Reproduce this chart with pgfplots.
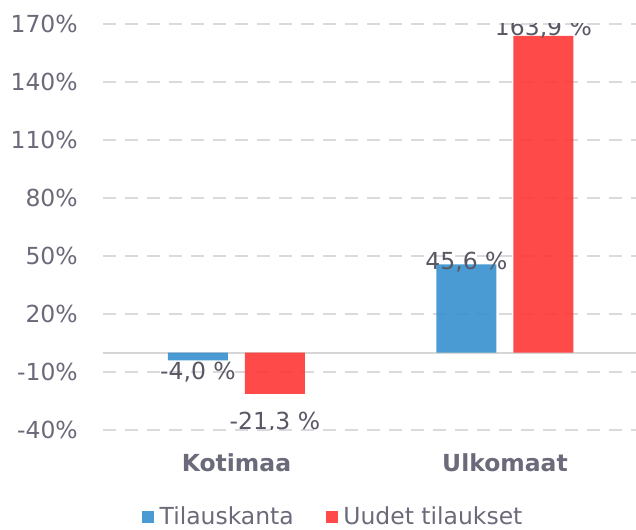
\documentclass[border=0pt]{standalone}
\usepackage{pgfplots}
\pgfplotsset{compat=1.18}
\usepackage{fontspec}
\setmainfont{DejaVu Sans}
\definecolor{cblue}{RGB}{54,144,207}
\definecolor{cred}{RGB}{255,54,54}
\definecolor{cgrid}{RGB}{217,217,222}
\definecolor{czero}{RGB}{214,214,214}
\definecolor{ctick}{RGB}{106,106,122}
\definecolor{clbl}{RGB}{88,88,100}
\newcommand{\bigf}{\fontsize{17.6}{21}\selectfont}
\begin{document}
\begin{tikzpicture}
\useasboundingbox (-77.25pt,-75pt) rectangle (399.75pt,322.5pt);
\begin{axis}[
  at={(0,0)}, anchor=south west,
  scale only axis, width=399.75pt, height=304.5pt,
  xmin=-0.497, xmax=1.488, ymin=-40, ymax=170,
  axis line style={draw=none},
  major tick length=0pt,
  ytick={-40,-10,20,50,80,110,140,170},
  yticklabels={-40\%,-10\%,20\%,50\%,80\%,110\%,140\%,170\%},
  xtick={0,1},
  xticklabels={\textbf{Kotimaa},\textbf{Ulkomaat}},
  ymajorgrids,
  major grid style={cgrid, line width=1.5pt, dash pattern=on 9.5pt off 7pt},
  extra y ticks={0}, extra y tick labels={},
  extra y tick style={ymajorgrids=true, major grid style={solid, czero, line width=1.5pt}},
  ybar=12.75pt, bar width=45pt,
  tick label style={font=\bigf, text=ctick},
  yticklabel style={anchor=east, inner sep=0pt, xshift=-18.75pt},
  xticklabel style={anchor=base, inner sep=0pt, yshift=-31.5pt},
  legend style={at={(0.4325,-0.214)}, anchor=center, draw=none, fill=none,
    legend columns=-1, font=\bigf, text=ctick,
    /tikz/every even column/.append style={column sep=22pt}},
  legend image code/.code={\fill[#1] (0pt,-4.5pt) rectangle (9pt,4.5pt); \path (11.25pt,0pt);},
]
\addplot[fill=cblue, draw=none, fill opacity=0.9] coordinates {(0,-4.0) (1,45.6)};
\addplot[fill=cred, draw=none, fill opacity=0.9] coordinates {(0,-21.3) (1,163.9)};
\legend{Tilauskanta, Uudet tilaukset}
\tikzset{lbl/.style={font=\bigf, text=clbl, anchor=base, inner sep=0pt}}
\node[lbl, xshift=-28.875pt] at (axis cs:0,-14.1) {-4,0 \%};
\node[lbl, xshift=28.875pt] at (axis cs:0,-40.0) {-21,3 \%};
\node[lbl, xshift=-28.875pt] at (axis cs:1,42.8) {45,6 \%};
\node[lbl, xshift=28.875pt] at (axis cs:1,163.8) {163,9 \%};
\end{axis}
\end{tikzpicture}
\end{document}
